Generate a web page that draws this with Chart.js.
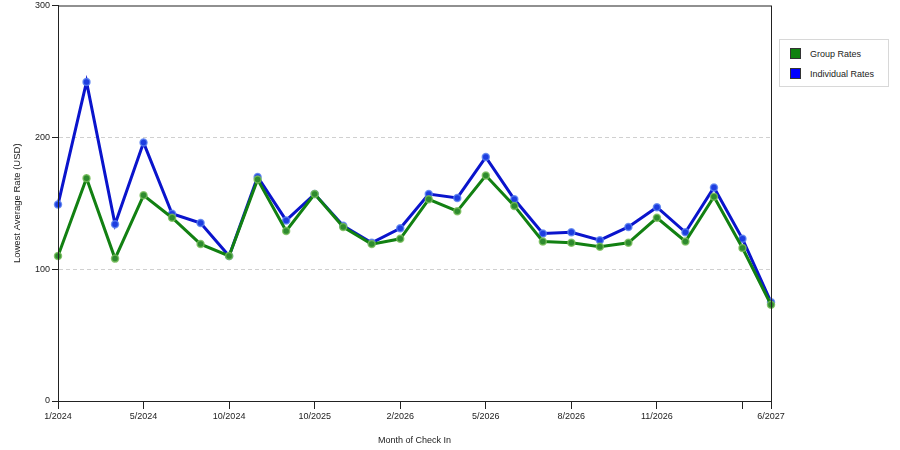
<!DOCTYPE html>
<html>
<head>
<meta charset="utf-8">
<script src="https://cdn.jsdelivr.net/npm/chart.js@4"></script>
<style>
  body{margin:0;background:#fff;}
  #wrap{position:relative;width:900px;height:450px;}
  #legend{position:absolute;left:779px;top:39px;width:108px;height:46px;border:1px solid #d8d8d8;background:#fff;
    font:9px "Liberation Sans",Arial,sans-serif;color:#222;}
  #legend div{position:absolute;left:10px;height:12px;line-height:12px;}
  #legend span{display:inline-block;width:11px;height:11px;border:1px solid #333;vertical-align:top;margin-right:9px;box-sizing:border-box;}
</style>
</head>
<body>
<div id="wrap">
  <canvas id="rateChart" width="900" height="450"></canvas>
  <div id="legend"></div>
</div>
<script>
// month of check in; only some positions carry a label
const categories = ['1/2024','','','5/2024','','','10/2024','','','10/2025','','','2/2026','','','5/2026','','','8/2026','','','11/2026','','','','6/2027'];
const tickMarks = [0,3,6,9,12,15,18,21,24,25];
const groupRates = [110,169,108,156,139,119,110,168,129,157,132,119,123,153,144,171,148,121,120,117,120,139,121,155,116,73];
const individualRates = [149,242,134,196,142,135,110,170,137,157,133,120,131,157,154,185,153,127,128,122,132,147,128,162,123,75];
const yTicks = [0,100,200,300];

const font = {family:'"Liberation Sans", Arial, sans-serif', size:9};

const frame = {
  id:'frame',
  afterDraw(chart){
    const {ctx, chartArea:a} = chart;
    ctx.save();
    ctx.strokeStyle = '#222';
    ctx.lineWidth = 1;
    ctx.strokeRect(a.left+0.5, a.top+0.5, a.right-a.left, a.bottom-a.top);
    ctx.restore();
  }
};

const datasets = [
  {label:'Group Rates', data:groupRates, borderColor:'#128012', backgroundColor:'#2e8b2e',
   pointBackgroundColor:'#2e8b2e', pointBorderColor:'rgba(120,190,90,0.8)', swatch:'#108010'},
  {label:'Individual Rates', data:individualRates, borderColor:'#0a14cc', backgroundColor:'#1d3de0',
   pointBackgroundColor:'#1d3de0', pointBorderColor:'rgba(90,130,240,0.8)', swatch:'#0000ff'}
].map(d => Object.assign(d, {borderWidth:3, pointRadius:3.5, pointBorderWidth:1.5, tension:0, fill:false}));

new Chart(document.getElementById('rateChart').getContext('2d'), {
  type:'line',
  data:{labels:categories, datasets},
  options:{
    responsive:false, animation:false,
    layout:{padding:{left:0, right:129, top:5, bottom:0}},
    plugins:{legend:{display:false}, tooltip:{enabled:false}},
    scales:{
      x:{
        offset:false,
        afterFit(s){ s.height = 49; s.paddingLeft = 0; s.paddingRight = 0; },
        grid:{drawOnChartArea:false, tickLength:8,
          color:c => tickMarks.includes(c.index) ? '#222' : 'rgba(0,0,0,0)'},
        border:{color:'#222'},
        ticks:{autoSkip:false, maxRotation:0, padding:2, color:'#222', font},
        title:{display:true, text:'Month of Check In', color:'#222', font, padding:{top:1}}
      },
      y:{
        min:0, max:300,
        afterFit(s){ s.width = 58; s.paddingTop = 0; s.paddingBottom = 0; },
        afterBuildTicks(s){ s.ticks = yTicks.map(v => ({value:v})); },
        grid:{tickLength:6, drawTicks:true,
          color:c => (c.tick && (c.tick.value===100 || c.tick.value===200)) ? '#d0d0d0' : 'rgba(0,0,0,0)',
          tickColor:'#222'},
        border:{color:'#222', dash:[4,3]},
        ticks:{padding:2, color:'#222', font},
        title:{display:true, text:'Lowest Average Rate (USD)', color:'#222',
          font:{family:font.family, size:9.5}, padding:{top:12, bottom:6}}
      }
    }
  },
  plugins:[frame]
});

const legend = document.getElementById('legend');
datasets.forEach((d,i) => {
  const row = document.createElement('div');
  row.style.top = (8 + i*20) + 'px';
  row.innerHTML = '<span style="background:'+d.swatch+'"></span>' + d.label;
  legend.appendChild(row);
});
</script>
</body>
</html>
